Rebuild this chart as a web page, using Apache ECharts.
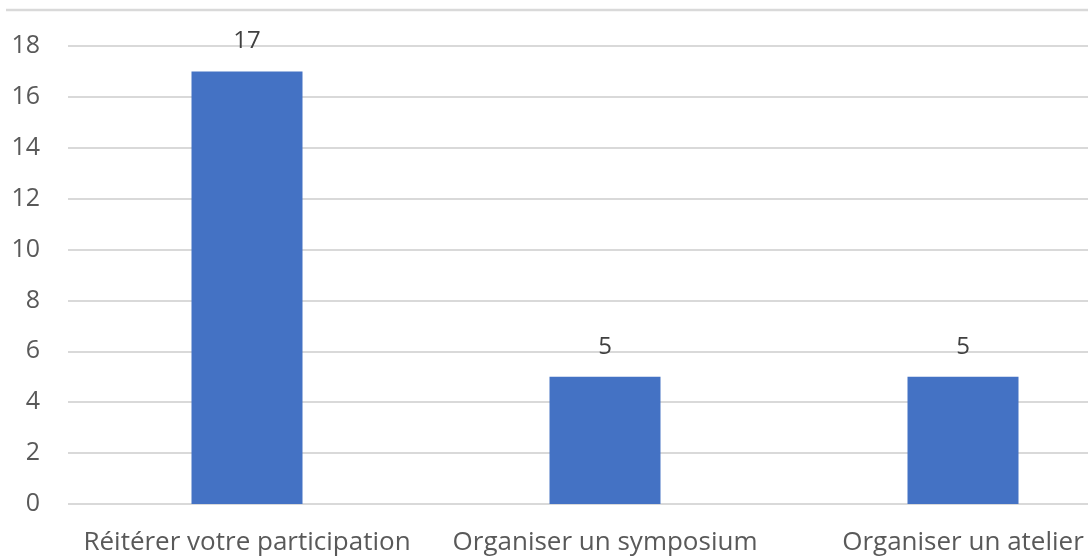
<!DOCTYPE html>
<html><head><meta charset="utf-8">
<script src="https://cdn.jsdelivr.net/npm/echarts@6/dist/echarts.min.js"></script>
<style>html,body{margin:0;padding:0;background:#fff;overflow:hidden;width:1088px;height:556px}#c{width:1142px;height:556px}</style>
</head><body><div id="c"></div>
<script>
const categories = ["Réitérer votre participation", "Organiser un symposium", "Organiser un atelier"];
const values = [17, 5, 5];
const yTicks = [0, 18, 2];

const chart = echarts.init(document.getElementById('c'));
chart.setOption({
  animation: false,
  textStyle: { fontFamily: 'Open Sans, sans-serif' },
  grid: { left: 68, right: 0, top: 46, bottom: 51, containLabel: false },
  graphic: [{ type: 'line', shape: { x1: 6, y1: 10, x2: 1142, y2: 10 }, style: { stroke: '#d9d9d9', lineWidth: 2.5 } }],
  xAxis: {
    type: 'category', data: categories,
    axisLine: { show: false }, axisTick: { show: false },
    axisLabel: { color: '#595959', fontSize: 26, margin: 26, interval: 0 }
  },
  yAxis: {
    type: 'value', min: yTicks[0], max: yTicks[1], interval: yTicks[2],
    axisLine: { show: false }, axisTick: { show: false },
    axisLabel: { color: '#595959', fontSize: 25, margin: 28 },
    splitLine: { lineStyle: { color: '#d9d9d9', width: 2 } }
  },
  series: [{
    type: 'bar', data: values, barWidth: 111,
    itemStyle: { color: '#4472c4' },
    label: { show: true, position: 'top', distance: 18, color: '#404040', fontSize: 24 }
  }]
});
</script></body></html>
